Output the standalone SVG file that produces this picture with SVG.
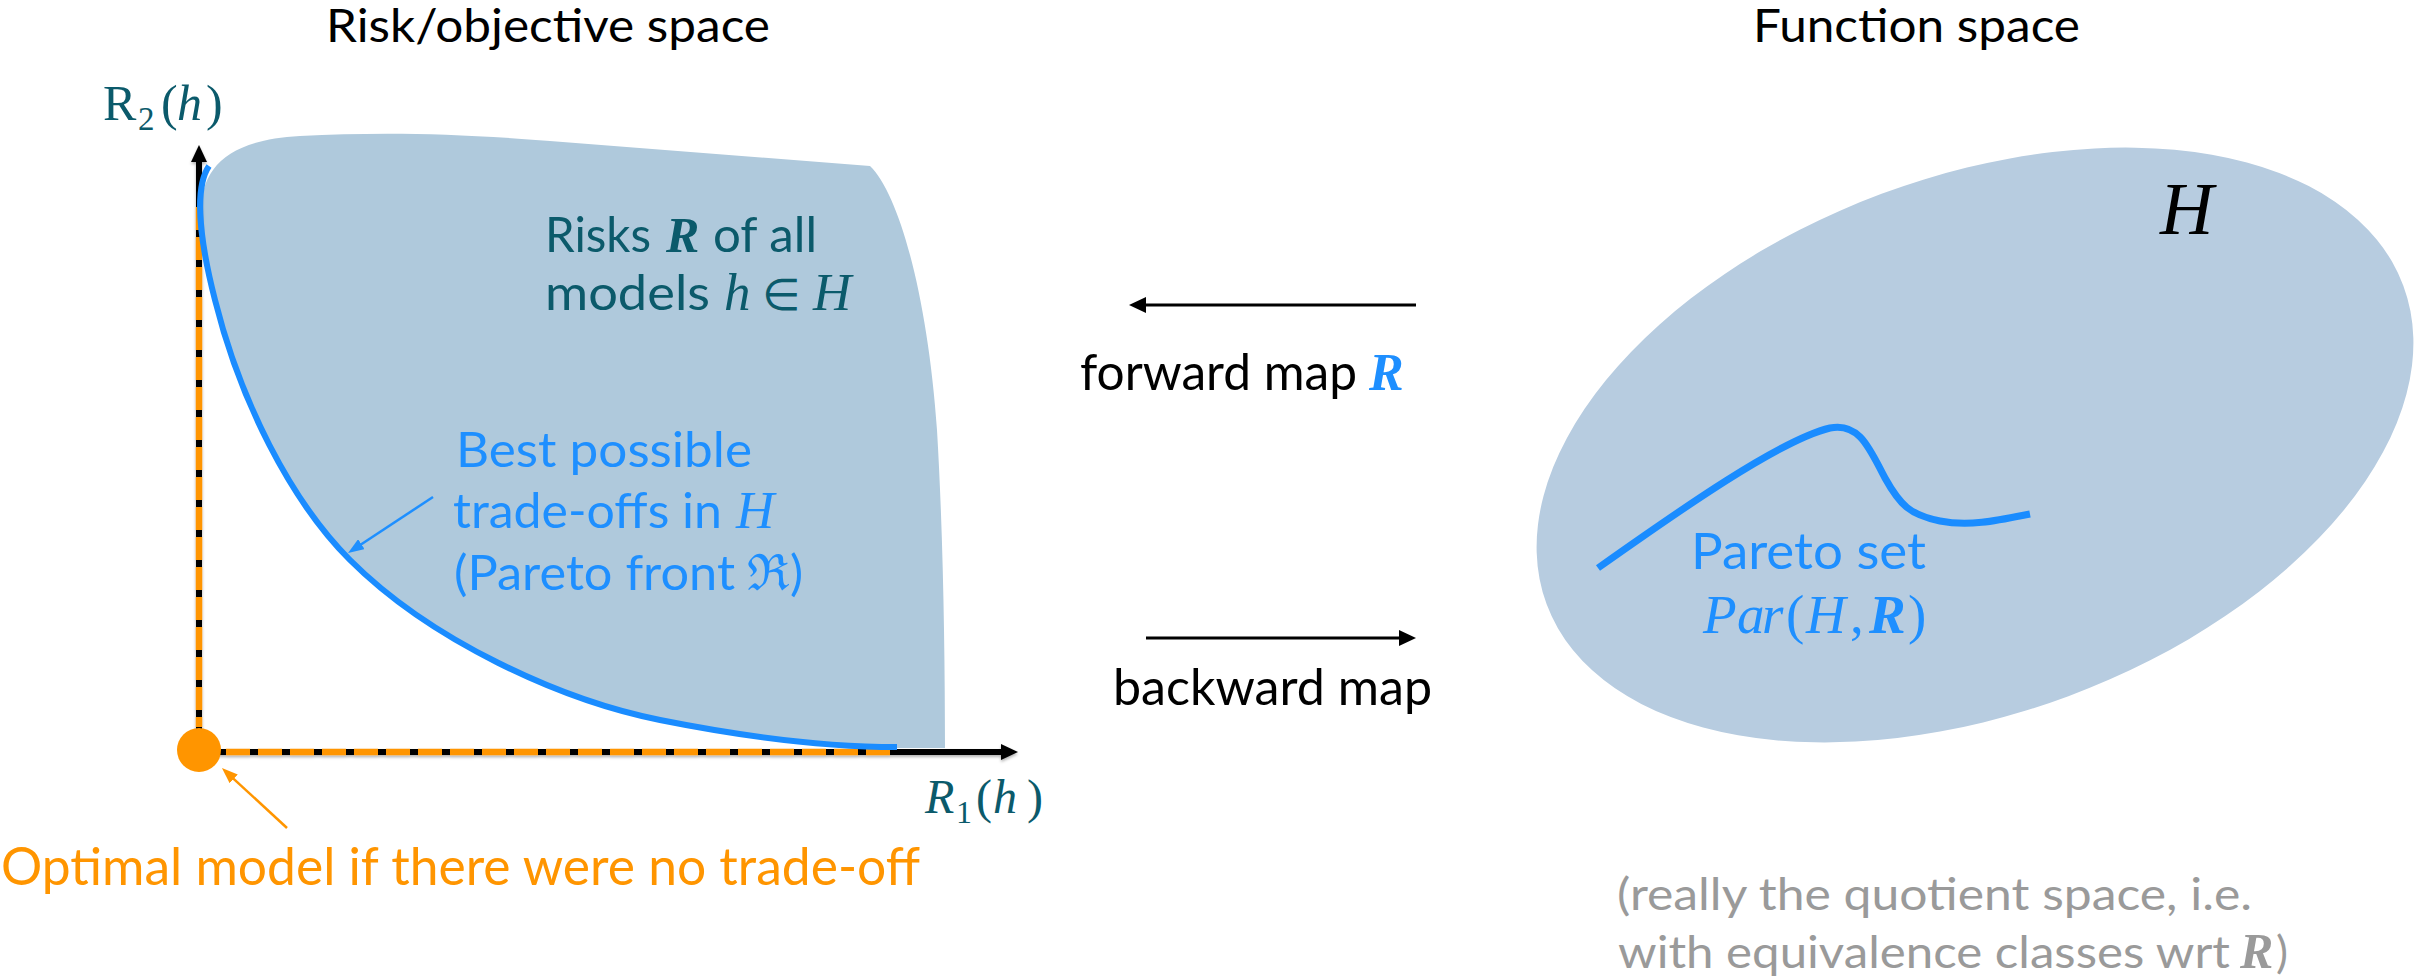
<svg xmlns="http://www.w3.org/2000/svg" width="2417" height="980" viewBox="0 0 2417 980">
<style>
.sans{font-family:Lato,"Noto Sans","DejaVu Sans",sans-serif}
.math{font-family:"Liberation Serif","DejaVu Serif",serif}
.it{font-style:italic}
.bi{font-style:italic;font-weight:bold}
.teal{fill:#0b5a6b}
.blue{fill:#1e8fff}
.orange{fill:#ff9500}
.gray{fill:#9a9a9a}
.black{fill:#000}
.title{font-size:46px}
</style>
<defs>
<marker id="ah" viewBox="0 0 17 16" refX="4" refY="8" markerWidth="17" markerHeight="16" markerUnits="userSpaceOnUse" orient="auto">
<path d="M0,0 L17,8 L0,16 Z" fill="#000"/>
</marker>
<marker id="ah-blue" viewBox="0 0 16 12" refX="6" refY="6" markerWidth="16" markerHeight="12" markerUnits="userSpaceOnUse" orient="auto">
<path d="M0,0 L16,6 L0,12 Z" fill="#1e8fff"/>
</marker>
<marker id="ah-orange" viewBox="0 0 16 12" refX="6" refY="6" markerWidth="16" markerHeight="12" markerUnits="userSpaceOnUse" orient="auto">
<path d="M0,0 L16,6 L0,12 Z" fill="#ff9500"/>
</marker>
<filter id="shadow" x="-5%" y="-5%" width="110%" height="110%">
<feDropShadow dx="0" dy="2" stdDeviation="1.5" flood-color="#000" flood-opacity="0.3"/>
</filter>
</defs>

<rect width="2417" height="980" fill="#fff"/>

<!-- Titles -->
<g id="title-risk">
<text class="sans title black" x="326" y="42" textLength="444" lengthAdjust="spacingAndGlyphs">Risk/objective space</text>
</g>
<g id="title-function">
<text class="sans title black" x="1753" y="42" textLength="327" lengthAdjust="spacingAndGlyphs">Function space</text>
</g>

<!-- Risk region -->
<g id="risk-region">
<path d="M201,215 C200,170 225,140 300,136 C380,132 450,133 550,141 L870,166 C900,195 928,300 937,430 C943,530 945,650 945,748 L897,748 C840,747 760,740 660,720 C560,700 430,640 350,560 C290,500 240,400 215,300 C205,260 201,235 201,215 Z" fill="#afc9dc"/>
</g>

<!-- Axes -->
<g id="axes" filter="url(#shadow)">
<line x1="199" y1="752" x2="199" y2="158" stroke="#000" stroke-width="6" marker-end="url(#ah)"/>
<line x1="199" y1="752" x2="1005" y2="752" stroke="#000" stroke-width="6" marker-end="url(#ah)"/>
<line x1="199" y1="207" x2="199" y2="727" stroke="#ff9500" stroke-width="6.5" stroke-dasharray="23 7"/>
<line x1="226" y1="752" x2="890" y2="752" stroke="#ff9500" stroke-width="6.5" stroke-dasharray="24 8"/>
</g>

<!-- Pareto front -->
<g id="pareto-front">
<path d="M209,166 C196,185 197,230 215,300 C240,400 290,500 350,560 C430,640 560,700 660,720 C760,740 840,747 897,747" fill="none" stroke="#1a8cff" stroke-width="6"/>
</g>

<!-- Optimal point -->
<g id="optimal-point">
<circle cx="199" cy="750" r="22" fill="#ff9500"/>
</g>

<!-- Axis labels -->
<g id="label-r2">
<text class="math teal" y="120" font-size="50"><tspan x="103">R</tspan><tspan x="138" y="130" font-size="33">2</tspan><tspan x="161" y="120">(</tspan><tspan x="177" class="it">h</tspan><tspan x="206">)</tspan></text>
</g>
<g id="label-r1">
<text class="math teal" y="813" font-size="48"><tspan x="925" class="it">R</tspan><tspan x="956" y="823" font-size="32">1</tspan><tspan x="976" y="813">(</tspan><tspan x="993" class="it">h</tspan><tspan x="1027">)</tspan></text>
</g>

<!-- Risks text -->
<g id="risks-label">
<text class="sans teal" x="545" y="252" font-size="49" textLength="106" lengthAdjust="spacingAndGlyphs">Risks</text>
<text class="math bi teal" x="666" y="252" font-size="50">R</text>
<text class="sans teal" x="713" y="252" font-size="49" textLength="104" lengthAdjust="spacingAndGlyphs">of all</text>
<text class="sans teal" x="545" y="310" font-size="49" textLength="165" lengthAdjust="spacingAndGlyphs">models</text>
<text class="math it teal" x="724" y="310" font-size="53">h</text>
<text class="teal" x="762" y="310" font-size="44" font-family="'DejaVu Sans',sans-serif">∈</text>
<text class="math it teal" x="813" y="310" font-size="53">H</text>
</g>

<!-- Pareto front label -->
<g id="pareto-front-label">
<text class="sans blue" x="456" y="467" font-size="49" textLength="296" lengthAdjust="spacingAndGlyphs">Best possible</text>
<text class="sans blue" x="453" y="528" font-size="49" textLength="269" lengthAdjust="spacingAndGlyphs">trade-offs in</text>
<text class="math it blue" x="736" y="528" font-size="53">H</text>
<text class="sans blue" x="454" y="590" font-size="49" textLength="281" lengthAdjust="spacingAndGlyphs">(Pareto front</text>
<text class="blue" x="747" y="590" font-size="50" font-family="'DejaVu Serif',serif">ℜ</text>
<text class="sans blue" x="790" y="590" font-size="49">)</text>
</g>

<!-- Optimal label -->
<g id="optimal-label">
<text class="sans orange" x="1" y="885" font-size="52" textLength="919" lengthAdjust="spacingAndGlyphs">Optimal model if there were no trade-off</text>
</g>

<!-- Function space ellipse -->
<g id="function-space">
<ellipse cx="1975" cy="445" rx="457" ry="268" transform="rotate(-20.4 1975 445)" fill="#b7cce0"/>
<text class="math it black" x="2160" y="234" font-size="74">H</text>
</g>

<!-- Pareto set -->
<g id="pareto-set">
<path d="M1598,568 C1680,510 1780,440 1830,428 C1860,422 1870,450 1885,478 C1900,505 1910,515 1940,521 C1970,527 2000,520 2030,514" fill="none" stroke="#1a8cff" stroke-width="7"/>
<text class="sans blue" x="1691" y="569" font-size="50" textLength="235" lengthAdjust="spacingAndGlyphs">Pareto set</text>
<text class="math it blue" y="633" font-size="55"><tspan x="1703">P</tspan><tspan x="1737">a</tspan><tspan x="1762">r</tspan><tspan x="1786" font-style="normal">(</tspan><tspan x="1806">H</tspan><tspan x="1850" font-style="normal">,</tspan><tspan x="1869" font-weight="bold">R</tspan><tspan x="1908" font-style="normal">)</tspan></text>
</g>

<!-- Quotient note -->
<g id="quotient-note">
<text class="sans gray" x="1617" y="910" font-size="45" textLength="635" lengthAdjust="spacingAndGlyphs">(really the quotient space, i.e.</text>
<text class="sans gray" x="1618" y="968" font-size="45" textLength="612" lengthAdjust="spacingAndGlyphs">with equivalence classes wrt</text>
<text class="math bi gray" x="2240" y="968" font-size="50">R</text>
<text class="sans gray" x="2276" y="968" font-size="45">)</text>
</g>

<!-- Map labels -->
<g id="forward-map-label">
<text class="sans black" x="1080" y="390" font-size="50" textLength="277" lengthAdjust="spacingAndGlyphs">forward map</text>
<text class="math bi blue" x="1369" y="390" font-size="52">R</text>
</g>
<g id="backward-map-label">
<text class="sans black" x="1113" y="705" font-size="50" textLength="319" lengthAdjust="spacingAndGlyphs">backward map</text>
</g>

<!-- Connectors -->
<g id="connectors">
<line x1="1416" y1="305" x2="1142" y2="305" stroke="#000" stroke-width="3" marker-end="url(#ah)"/>
<line x1="1146" y1="638" x2="1403" y2="638" stroke="#000" stroke-width="3" marker-end="url(#ah)"/>
<line x1="433" y1="497" x2="356.4" y2="547.5" stroke="#1e8fff" stroke-width="2.5" marker-end="url(#ah-blue)"/>
<line x1="287" y1="828" x2="229.3" y2="774.8" stroke="#ff9500" stroke-width="2.5" marker-end="url(#ah-orange)"/>
</g>
</svg>
